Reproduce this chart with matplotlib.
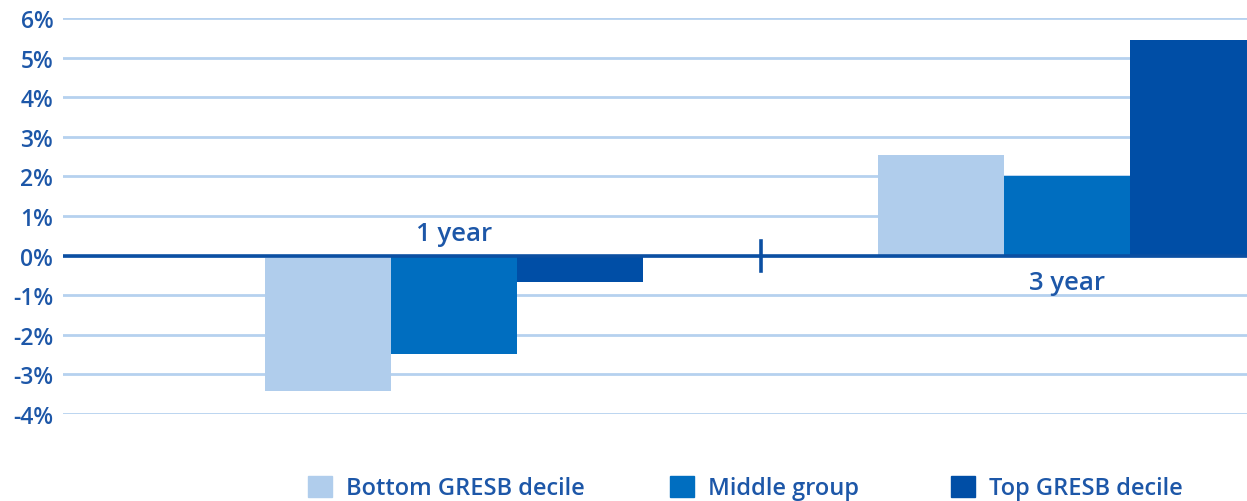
import matplotlib
matplotlib.use("Agg")
import numpy as np
from matplotlib import pyplot as plt
from matplotlib.patches import Rectangle

# data
periods = ["1 year", "3 year"]
series = ["Bottom GRESB decile", "Middle group", "Top GRESB decile"]
bottom_decile = [-3.42, 2.55]
middle_group = [-2.48, 2.02]
top_decile = [-0.67, 5.44]
y_ticks = [-4, -3, -2, -1, 0, 1, 2, 3, 4, 5, 6]

colors = ["#b0cdec", "#006ec0", "#004ea6"]
text_color = "#1d57a8"
grid_color = "#b6d1ef"
zero_color = "#0b4fa2"

plt.rcParams['font.family'] = ['Open Sans', 'DejaVu Sans']

W, H = 1247, 502
fig = plt.figure(figsize=(W / 100, H / 100), dpi=100)
ax = fig.add_axes([63 / W, 1 - 415 / H, 1 - 63 / W, (415 - 19) / H])

x = np.arange(len(periods))
w = 126 / 613
for i, vals in enumerate([bottom_decile, middle_group, top_decile]):
    ax.bar(x + (i - 1) * w, vals, width=w, color=colors[i], zorder=2,
           linewidth=0)

ax.set_xlim((63 - 454) / 613, (W - 454) / 613)
ax.set_ylim(-4, 6)
ax.set_yticks(y_ticks)
ax.set_yticklabels([f"{t}%" for t in y_ticks])
ax.set_xticks([])
ax.yaxis.grid(True, color=grid_color, linewidth=2)
ax.set_axisbelow(True)
for s in ax.spines.values():
    s.set_visible(False)
ax.tick_params(axis='y', length=0, pad=7, labelsize=16.5, labelcolor=text_color)
for lab in ax.get_yticklabels():
    lab.set_fontweight('semibold')

# zero line and the divider tick
ax.axhline(0, color=zero_color, linewidth=2.6, zorder=3)
ax.plot([0.5, 0.5], [-0.38, 0.38], color=zero_color, linewidth=2.6, zorder=3)

ax.text(x[0], 0.56, periods[0], ha='center', va='center', fontsize=18.5,
        color=text_color, fontweight='semibold', zorder=4)
ax.text(x[1], -0.68, periods[1], ha='center', va='center', fontsize=18.5,
        color=text_color, fontweight='semibold', zorder=4)

# legend
leg_x = [308, 670, 951]
for i, name in enumerate(series):
    fig.patches.append(Rectangle((leg_x[i] / W, 1 - 498 / H), 24 / W, 21 / H,
                                 transform=fig.transFigure, color=colors[i]))
    fig.text((leg_x[i] + 38) / W, 1 - 489 / H, name, ha='left', va='center',
             fontsize=17, color=text_color, fontweight='semibold')

fig.savefig("out.png", dpi=100)
